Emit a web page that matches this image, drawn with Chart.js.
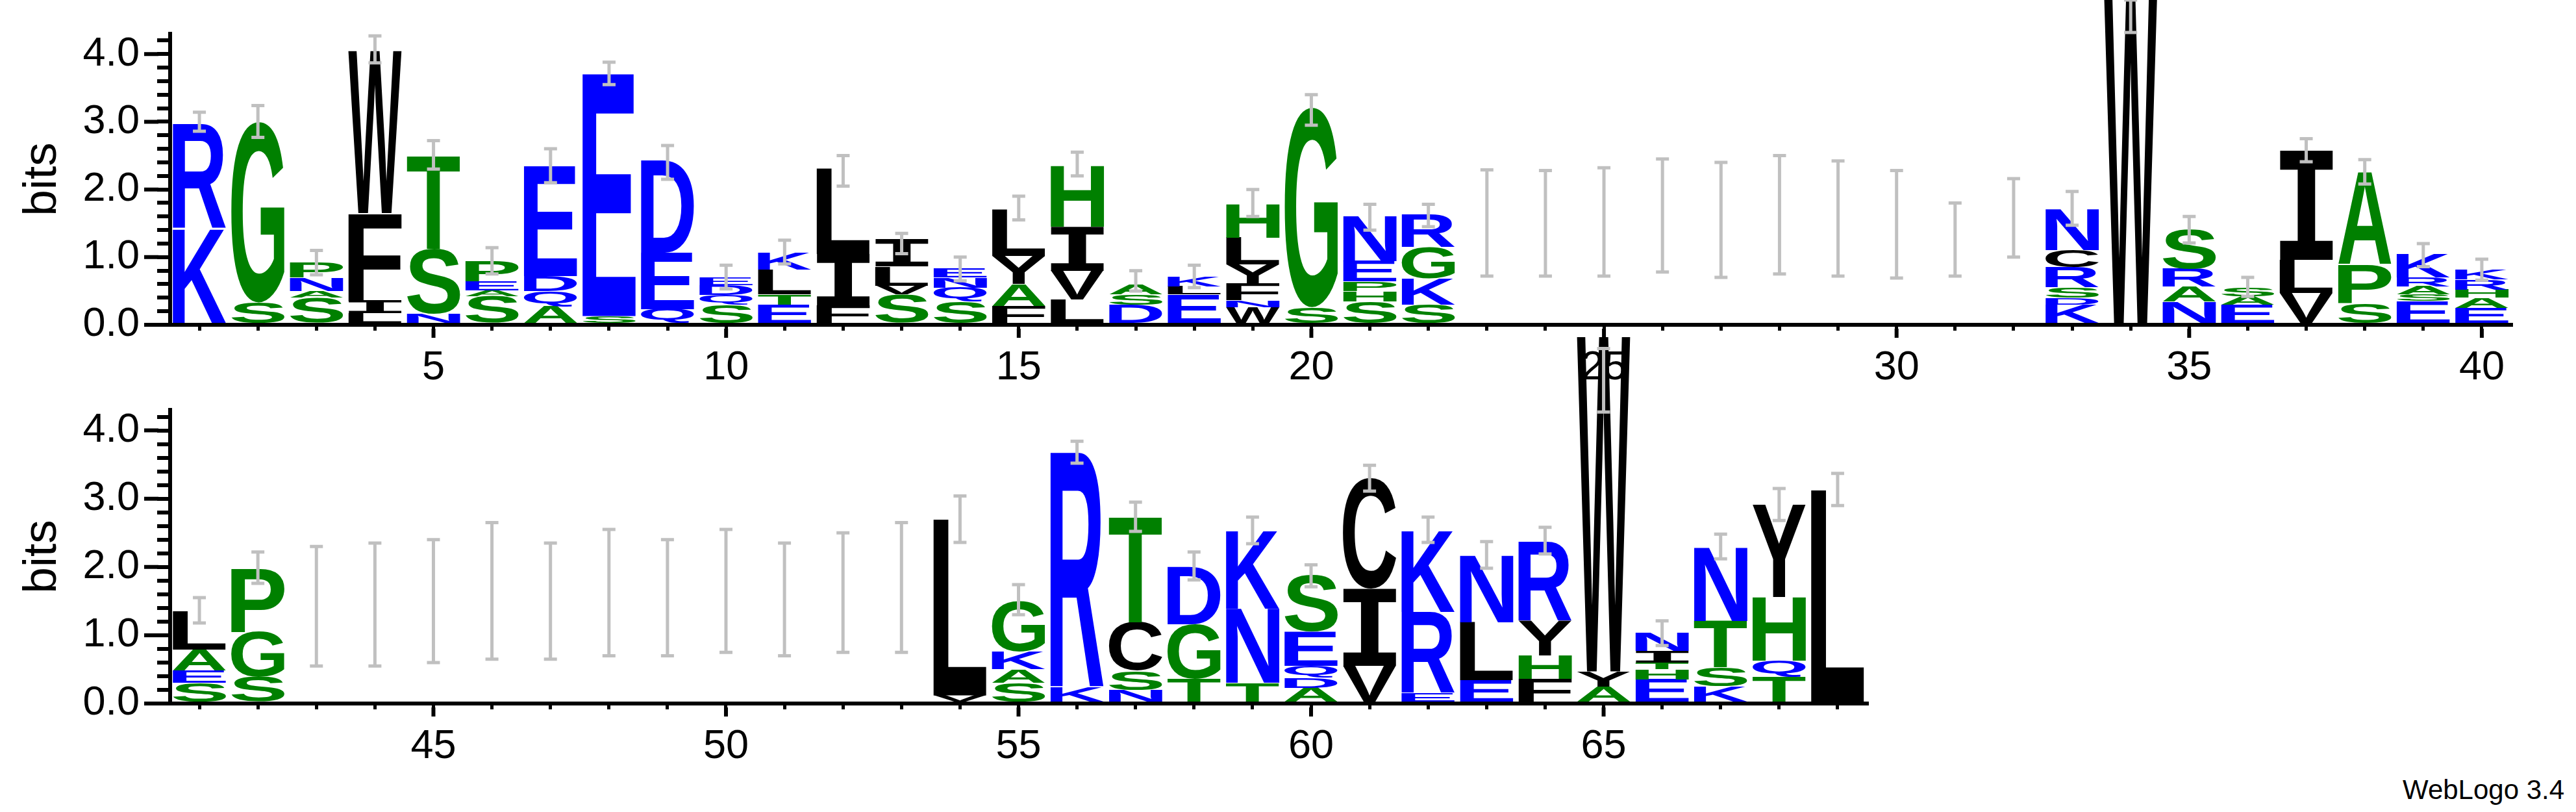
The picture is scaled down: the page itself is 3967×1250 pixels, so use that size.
<!DOCTYPE html>
<html lang="en">
<head>
<meta charset="UTF-8">
<title>WebLogo</title>
<style>
  body { margin: 0; background: #fff; width: 3967px; height: 1250px; position: relative; overflow: hidden; font-family: "Liberation Sans", Arial, sans-serif; }
  .panel { position: absolute; left: 0; }
  #credit { position: absolute; left: 3700px; top: 1192px; font-size: 42px; color: #000; }
</style>
</head>
<body>
<div class="panel" id="topBox" style="top:-30px;width:3967px;height:640px"><canvas id="topChart"></canvas></div>
<div class="panel" id="botBox" style="top:500px;width:2975px;height:693px"><canvas id="botChart"></canvas></div>
<div id="credit">WebLogo 3.4</div>
<script src="https://cdn.jsdelivr.net/npm/chart.js"></script>
<script>
// letters listed bottom -> top, heights in bits, err = [low, high] of the error bar
const topPositions = [1,2,3,4,5,6,7,8,9,10,11,12,13,14,15,16,17,18,19,20,21,22,23,24,25,26,27,28,29,30,31,32,33,34,35,36,37,38,39,40];
const topLetters = ["KR","SG","SANP","LIFW","NST","SAEP","AQDE","SE","QED","SQDE","ETLK","FIL","SVLI","SQNE","FAYL","LVIH","DSA","ELK","WNFYLH","SG","SHPEN","SKGR","","","","","","","","","","","KDSRCN","W","NARS","EAS","VLI","SPA","ESARK","EAHRK"];
const topHeights = [[1.42,1.55],[0.33,2.67],[0.4,0.1,0.2,0.22],[0.17,0.18,1.3,2.4],[0.16,0.96,1.37],[0.42,0.09,0.13,0.3],[0.27,0.23,0.22,1.62],[0.13,3.58],[0.23,0.84,1.36],[0.29,0.15,0.15,0.11],[0.3,0.15,0.37,0.25],[0.29,0.76,1.27],[0.45,0.13,0.28,0.4],[0.35,0.2,0.15,0.13],[0.28,0.32,0.42,0.69],[0.37,0.43,0.65,0.91],[0.3,0.15,0.15],[0.45,0.12,0.15],[0.26,0.1,0.25,0.28,0.4,0.5],[0.26,2.95],[0.35,0.15,0.14,0.3,0.67],[0.3,0.38,0.47,0.48],[],[],[],[],[],[],[],[],[],[],[0.3,0.1,0.15,0.3,0.25,0.6],[4.9],[0.34,0.22,0.27,0.58],[0.3,0.12,0.12],[0.47,0.49,1.61],[0.32,0.57,1.36],[0.35,0.1,0.12,0.13,0.34],[0.25,0.15,0.12,0.15,0.15]];
const topErr = [[2.86,3.14],[2.77,3.24],[0.74,1.1],[3.87,4.27],[2.3,2.72],[0.75,1.14],[2.1,2.6],[3.55,3.88],[2.15,2.65],[0.53,0.88],[0.9,1.25],[2.05,2.5],[1.05,1.35],[0.65,1.0],[1.55,1.9],[2.2,2.55],[0.5,0.8],[0.55,0.88],[1.6,2.0],[2.95,3.4],[1.4,1.78],[1.45,1.78],[0.72,2.29],[0.72,2.28],[0.72,2.32],[0.78,2.45],[0.7,2.4],[0.75,2.5],[0.72,2.42],[0.69,2.28],[0.72,1.8],[1.0,2.16],[1.47,1.97],[4.32,4.8],[1.21,1.6],[0.42,0.7],[2.41,2.75],[2.08,2.44],[0.86,1.2],[0.66,0.97]];

const botPositions = [41,42,43,44,45,46,47,48,49,50,51,52,53,54,55,56,57,58,59,60,61,62,63,64,65,66,67,68,69];
const botLetters = ["SEAL","SGP","","","","","","","","","","","","VL","SAKG","KR","NSCT","TGD","TNK","ADQES","VIC","ERK","ELN","FHYR","AYW","EHTIN","KSTN","TQHY","L"];
const botHeights = [[0.3,0.18,0.31,0.56],[0.39,0.66,0.93],[],[],[],[],[],[],[],[],[],[],[],[0.12,2.58],[0.3,0.2,0.26,0.74],[0.23,3.45],[0.2,0.28,0.71,1.54],[0.36,0.8,0.84],[0.3,1.09,1.14],[0.23,0.15,0.17,0.5,0.82],[0.55,1.13,1.62],[0.15,1.19,1.19],[0.34,0.85,0.98],[0.36,0.34,0.51,1.16],[0.25,0.22,4.91],[0.35,0.15,0.1,0.17,0.27],[0.25,0.28,0.68,1.08],[0.4,0.23,0.93,1.35],[3.13]];
const botErr = [[1.18,1.55],[1.76,2.22],[0.55,2.3],[0.55,2.35],[0.6,2.4],[0.65,2.65],[0.65,2.35],[0.7,2.55],[0.7,2.4],[0.75,2.55],[0.7,2.35],[0.75,2.5],[0.75,2.65],[2.36,3.04],[1.3,1.74],[3.52,3.84],[2.52,2.95],[1.81,2.22],[2.34,2.73],[1.71,2.03],[3.11,3.49],[2.36,2.73],[1.98,2.37],[2.19,2.58],[4.27,5.2],[0.85,1.21],[2.12,2.48],[2.68,3.15],[2.9,3.37]];

const colorOf = ch => ("RKDENQ".includes(ch) ? "#0000ff" : "GSTHPA".includes(ch) ? "#008000" : "#000000");

const logoPlugin = {
  id: 'logo',
  afterDatasetsDraw(chart, args, opts) {
    const ctx = chart.ctx;
    const ys = chart.scales.y, xs = chart.scales.x;
    chart.data.datasets.forEach((ds, k) => {
      chart.getDatasetMeta(k).data.forEach((el, i) => {
        const ch = opts.letters[i][k];
        if (!ch) return;
        const top = Math.min(el.y, el.base), h = Math.abs(el.base - el.y);
        if (h < 1) return;
        const w = el.width * 0.91;
        ctx.save();
        ctx.font = ch === 'I' ? 'bold 200px "DejaVu Sans Mono"' : 'bold 200px "Liberation Sans", Arial';
        const m = ctx.measureText(ch);
        const gw = m.actualBoundingBoxLeft + m.actualBoundingBoxRight;
        const gh = m.actualBoundingBoxAscent + m.actualBoundingBoxDescent;
        ctx.translate(el.x - w / 2, top);
        ctx.scale(w / gw, h / gh);
        ctx.fillStyle = colorOf(ch);
        ctx.fillText(ch, m.actualBoundingBoxLeft, m.actualBoundingBoxAscent);
        ctx.restore();
      });
    });
    ctx.save();
    // longer major ticks
    ctx.strokeStyle = '#000';
    ctx.lineWidth = 6;
    ctx.beginPath();
    for (let v = 0; v <= 4; v++) {
      const y = ys.getPixelForValue(v);
      ctx.moveTo(xs.left - 40, y); ctx.lineTo(xs.left - 18, y);
    }
    opts.major.forEach(v => {
      const x = xs.getPixelForValue(v);
      ctx.moveTo(x, ys.bottom + 6); ctx.lineTo(x, ys.bottom + 20);
    });
    ctx.stroke();
    // error bars
    ctx.strokeStyle = '#c0c0c0';
    ctx.lineWidth = 5;
    opts.positions.forEach((p, i) => {
      const [lo, hi] = opts.err[i];
      const x = xs.getPixelForValue(p);
      const y1 = ys.getPixelForValue(lo), y2 = ys.getPixelForValue(hi);
      ctx.beginPath();
      ctx.moveTo(x, y1); ctx.lineTo(x, y2);
      ctx.moveTo(x - 10, y1); ctx.lineTo(x + 10, y1);
      ctx.moveTo(x - 10, y2); ctx.lineTo(x + 10, y2);
      ctx.stroke();
    });
    ctx.restore();
  }
};

function makeLogo(id, positions, letters, heights, err, xMin, xMax, major, padTop) {
  const layers = Math.max(...heights.map(h => h.length));
  const datasets = [];
  for (let k = 0; k < layers; k++) {
    datasets.push({
      data: positions.map((p, i) => ({ x: p, y: heights[i][k] || 0 })),
      backgroundColor: 'rgba(0,0,0,0)',
      barPercentage: 1,
      categoryPercentage: 1
    });
  }
  const yTicks = [];
  for (let i = 0; i <= 21; i++) yTicks.push(i / 5);
  new Chart(document.getElementById(id), {
    type: 'bar',
    data: { datasets },
    plugins: [logoPlugin],
    options: {
      responsive: true,
      maintainAspectRatio: false,
      animation: false,
      layout: { padding: { left: 0, right: 100, top: padTop, bottom: 0 } },
      plugins: {
        legend: { display: false },
        tooltip: { enabled: false },
        logo: { letters, err, positions, major }
      },
      scales: {
        x: {
          type: 'linear', stacked: true, min: xMin, max: xMax, offset: false,
          afterBuildTicks: s => { s.ticks = positions.map(v => ({ value: v })); },
          afterFit: s => { s.height = 110; },
          grid: { drawOnChartArea: false, offset: false, color: '#000', lineWidth: 5, tickLength: 9 },
          border: { color: '#000', width: 6 },
          ticks: { autoSkip: false, maxRotation: 0, padding: 20, color: '#000', font: { size: 63, family: '"Liberation Sans", Arial' },
                   callback: v => (major.includes(v) ? v : '') }
        },
        y: {
          stacked: true, min: 0, max: 4.3,
          afterBuildTicks: s => { s.ticks = yTicks.map(v => ({ value: v })); },
          afterFit: s => { s.width = 262; },
          grid: { drawOnChartArea: false, color: '#000', lineWidth: 6, tickLength: 20 },
          border: { color: '#000', width: 6 },
          title: { display: true, text: 'bits', color: '#000', padding: { top: 22, bottom: 0 }, font: { size: 73, family: '"Liberation Sans", Arial' } },
          ticks: { autoSkip: false, padding: 27, color: '#000', font: { size: 63, family: '"Liberation Sans", Arial' },
                   callback: v => (Math.abs(v - Math.round(v)) < 1e-6 ? v.toFixed(1) : '') }
        }
      }
    }
  });
}

makeLogo('topChart', topPositions, topLetters, topHeights, topErr, 0.5, 40.5, [5, 10, 15, 20, 25, 30, 35, 40], 82);
makeLogo('botChart', botPositions, botLetters, botHeights, botErr, 40.5, 69.5, [45, 50, 55, 60, 65], 131);
</script>
</body>
</html>
